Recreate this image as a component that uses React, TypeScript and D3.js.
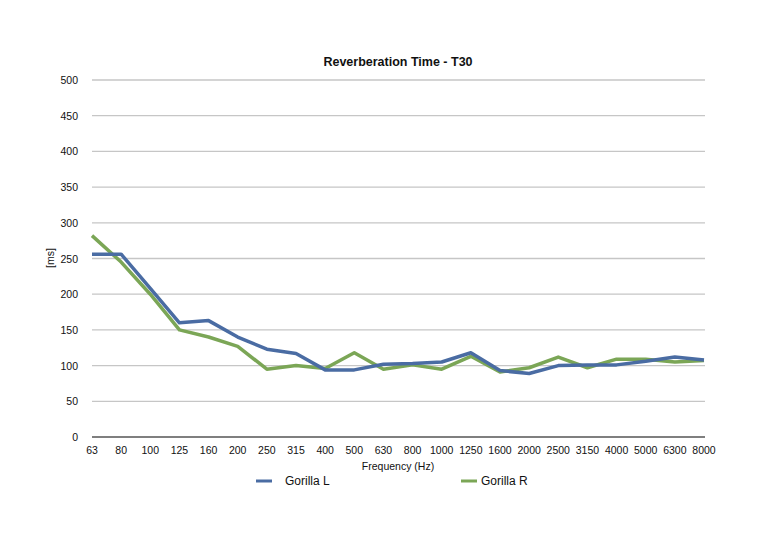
import React from "react";
import * as d3 from "d3";

const categories = ["63","80","100","125","160","200","250","315","400","500","630","800","1000","1250","1600","2000","2500","3150","4000","5000","6300","8000"];
const gorillaL = [256,256,208,160,163,140,123,117,94,94,102,103,105,118,93,89,100,101,101,106,112,108];
const gorillaR = [282,245,200,150,140,127,95,100,96,118,95,101,95,113,91,97,112,97,109,109,105,107];
const yTicks = [0,50,100,150,200,250,300,350,400,450,500];

const W = 768, H = 542;
const left = 92, right = 705, top = 80, bottom = 437;
const font = "'Liberation Sans', Arial, Helvetica, sans-serif";
const blue = "#4a6ca3";
const green = "#7ba656";

export default function App() {
  const x = d3.scalePoint<string>().domain(categories).range([left, right - 1]);
  const y = d3.scaleLinear().domain([0, 500]).range([bottom, top]);
  const line = d3.line<number>().x((_, i) => x(categories[i]) as number).y(d => y(d));
  return (
    <svg width={W} height={H} style={{ position: "absolute", left: 0, top: 0, background: "#fff" }}>
      <rect width={W} height={H} fill="#fff" />
      <text x={398} y={66} textAnchor="middle" fontFamily={font} fontSize={12.5} fontWeight="bold" fill="#111">Reverberation Time - T30</text>
      {yTicks.filter(t => t > 0).map(t => (
        <line key={t} x1={left} x2={right} y1={y(t)} y2={y(t)} stroke="#c6c6c6" strokeWidth={1.3} />
      ))}
      <line x1={left} x2={right} y1={y(0)} y2={y(0)} stroke="#555" strokeWidth={1.3} />
      {yTicks.map(t => (
        <text key={t} x={78} y={y(t) + 4} textAnchor="end" fontFamily={font} fontSize={10.5} fill="#111">{t}</text>
      ))}
      {categories.map(c => (
        <text key={c} x={x(c)} y={454} textAnchor="middle" fontFamily={font} fontSize={10.5} fill="#111">{c}</text>
      ))}
      <text transform={`translate(54,258) rotate(-90)`} textAnchor="middle" fontFamily={font} fontSize={10.5} fill="#111">[ms]</text>
      <text x={398} y={470} textAnchor="middle" fontFamily={font} fontSize={10.5} fill="#111">Frequency (Hz)</text>
      <path d={line(gorillaR) || ""} fill="none" stroke={green} strokeWidth={3.5} strokeLinejoin="round" />
      <path d={line(gorillaL) || ""} fill="none" stroke={blue} strokeWidth={3.5} strokeLinejoin="round" />
      <line x1={256} x2={272} y1={481} y2={481} stroke={blue} strokeWidth={3} />
      <text x={285} y={485} fontFamily={font} fontSize={12} fill="#111">Gorilla L</text>
      <line x1={461} x2={477} y1={481} y2={481} stroke={green} strokeWidth={3} />
      <text x={481} y={485} fontFamily={font} fontSize={12} fill="#111">Gorilla R</text>
    </svg>
  );
}
